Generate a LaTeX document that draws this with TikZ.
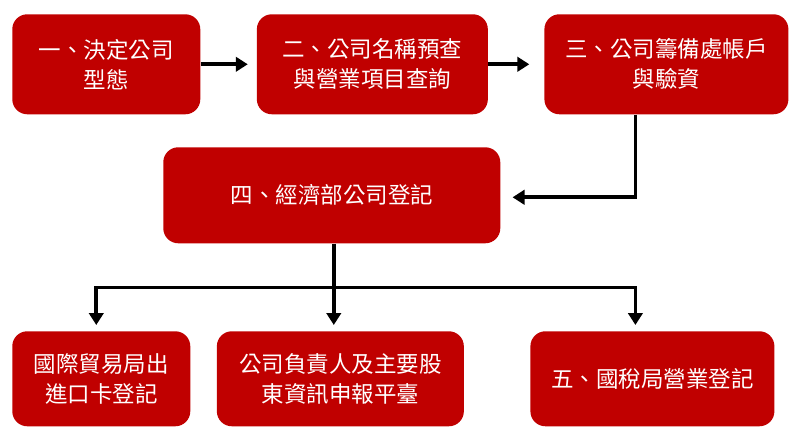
\documentclass[tikz,border=0pt]{standalone}
\usepackage{fontspec}
\setmainfont{Noto Sans CJK TC}
\usepackage{tikz}
\usetikzlibrary{positioning,arrows.meta}
\definecolor{boxRed}{HTML}{C00000}
\newlength{\rowHeight}
\setlength{\rowHeight}{2.5cm}
\tikzset{block/.style={shape=rectangle, rounded corners=0.375cm, fill=boxRed, text=white, align=center, minimum height=\rowHeight, inner sep=0pt, font=\fontsize{16pt}{21.3pt}\selectfont}}
\tikzset{flow/.style={line width=2.7pt, -{Triangle[width=0.36cm,length=0.3cm]}}}

\begin{document}
\begin{tikzpicture}
\useasboundingbox (0,0) rectangle (20,-10.975);
\begin{scope}[every node/.style={block}]
    \node[minimum width=4.7cm, anchor=north west] (first) at (0.3,-0.35) {一、決定公司\\型態};
    \node[minimum width=5.775cm, right=1.4cm of first] (second) {二、公司名稱預查\\與營業項目查詢};
    \node[minimum width=6.1cm, right=1.4cm of second] (third) {三、公司籌備處帳戶\\與驗資};
    \node[minimum width=8.425cm, minimum height=2.4cm, anchor=north west] (fourth) at (4.075,-3.675) {四、經濟部公司登記};
    \node[minimum width=4.45cm, minimum height=2.375cm, anchor=north west] (trade) at (0.3,-8.275) {國際貿易局出\\進口卡登記};
    \node[minimum width=6.175cm, minimum height=2.375cm, right=0.65cm of trade] (share) {公司負責人及主要股\\東資訊申報平臺};
    \node[minimum width=6.1cm, minimum height=2.375cm, right=1.65cm of share] (fifth) {五、國稅局營業登記};
\end{scope}
\coordinate (split) at ([xshift=0.05cm,yshift=-1.1cm]fourth.south);
\draw[flow, shorten >=0.22cm] (first) -- (second);
\draw[flow, shorten >=0.37cm] (second) -- (third);
\draw[flow, shorten >=0.3cm] ([xshift=-0.775cm]third.south) |- ([yshift=-0.05cm]fourth.east);
\draw[line width=2.7pt] ([xshift=0.05cm]fourth.south) -- (split);
\draw[flow, shorten >=0.15cm] (split) -| ([xshift=-0.125cm]trade.north);
\draw[flow, shorten >=0.15cm] (split) -- (split |- share.north);
\draw[flow, shorten >=0.15cm] (split) -| ([xshift=-0.425cm]fifth.north);
\end{tikzpicture}
\end{document}
